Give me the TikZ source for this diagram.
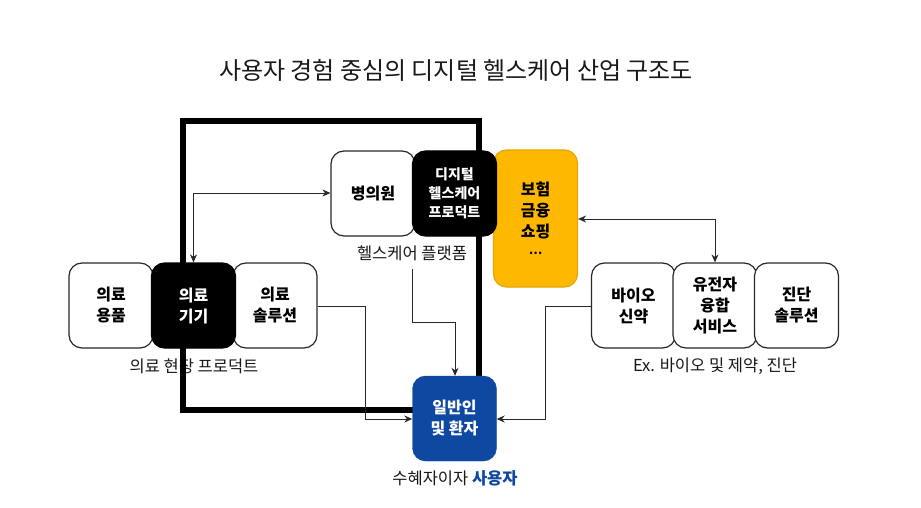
\documentclass[tikz,border=0pt]{standalone}
\usepackage{fontspec}
\setmainfont{Noto Sans CJK KR}
\usetikzlibrary{arrows.meta}
\definecolor{ybox}{RGB}{255,184,0}
\definecolor{bbox}{RGB}{14,72,160}
\definecolor{lc}{RGB}{40,40,40}
\tikzset{
  box/.style={rectangle, rounded corners=13pt, minimum width=84pt, minimum height=85pt, align=center, inner sep=2pt, font=\fontsize{16}{21}\selectfont\bfseries},
  wbox/.style={box, draw=lc, line width=1.2pt, fill=white, text=black},
  kbox/.style={box, draw=black, line width=1.2pt, fill=black, text=white, font=\fontsize{14}{19}\selectfont\bfseries},
  lbl/.style={font=\fontsize{16.5}{20}\selectfont, text=black!90},
  conn/.style={draw=lc, line width=1pt, -{Stealth[length=8pt,width=7pt]}},
  dconn/.style={draw=lc, line width=1pt, {Stealth[length=8pt,width=7pt]}-{Stealth[length=8pt,width=7pt]}},
}
\begin{document}
\begin{tikzpicture}[x=1pt,y=-1pt]
\useasboundingbox (0,0) rectangle (921,508);
\fill[white] (0,0) rectangle (921,508);
% title
\node[font=\fontsize{24}{30}\selectfont, text=black!90] (title) at (456,70) {사용자 경험 중심의 디지털 헬스케어 산업 구조도};
% labels
\node[lbl] (lmed) at (194,366) {의료 현장 프로덕트};
\node[lbl] (lplat) at (412,253) {헬스케어 플랫폼};
\node[lbl] (lbio) at (715,366) {Ex. 바이오 및 제약, 진단};
\node[lbl] (luser) at (455,478) {수혜자이자 \textcolor{bbox}{\bfseries 사용자}};
% thick frame
\draw[line width=6pt, black] (183,121) rectangle (479,410);
% left group
\node[wbox] (supply) at (111,305.5) {의료\\용품};
\node[wbox] (solu) at (275,305.5) {의료\\솔루션};
\node[kbox, font=\fontsize{16}{21}\selectfont\bfseries] (device) at (193.5,305.5) {의료\\기기};
% platform
\node[wbox] (hosp) at (373,193.5) {병의원};
\node[box, fill=ybox, draw=ybox!90!black, line width=1.2pt, minimum height=137pt] (ins) at (535.5,218.5) {보험\\금융\\쇼핑\\[-4pt]\fontsize{12}{12}\selectfont …};
\node[kbox] (dig) at (454.5,193.5) {디지털\\헬스케어\\프로덕트};
% right group
\node[wbox] (bio) at (633.5,305.5) {바이오\\신약};
\node[wbox] (gene) at (715,305.5) {유전자\\융합\\서비스};
\node[wbox] (diag) at (796.5,305.5) {진단\\솔루션};
% user
\node[box, fill=bbox, draw=bbox, text=white] (user) at (454.5,418.5) {일반인\\및 환자};
% connectors
\draw[dconn] (hosp.west |- 0,193) -| (device.north);
\draw[dconn] (ins.east |- 0,219) -| (gene.north);
\draw[conn] (lplat.south -| 412,0) ++(0,5) |- (455,322) -- (user.north -| 455,0);
\draw[conn] (solu.east |- 0,306) -| (365,419) -- (user.west |- 0,419);
\draw[conn] (bio.west |- 0,306) -| (545,419) -- (user.east |- 0,419);
\end{tikzpicture}
\end{document}
